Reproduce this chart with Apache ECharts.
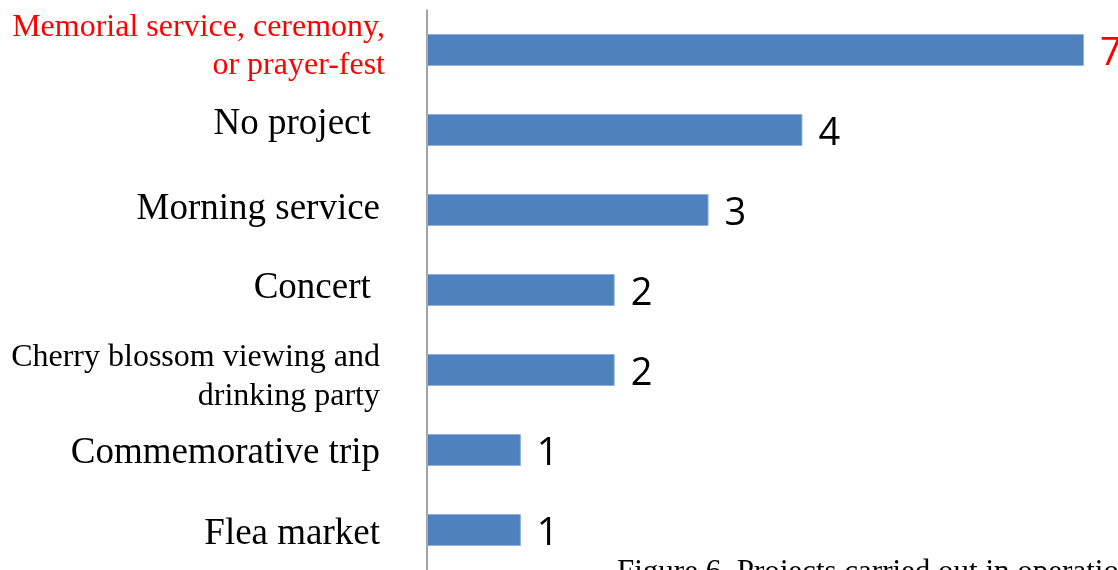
<!DOCTYPE html>
<html>
<head>
<meta charset="utf-8">
<script src="https://cdn.jsdelivr.net/npm/echarts@6/dist/echarts.min.js"></script>
<style>
  html, body { margin: 0; padding: 0; background: #fff; }
  #chart { width: 1118px; height: 570px; }
</style>
</head>
<body>
<div id="chart"></div>
<script>
// Projects and how many groups carried each out
const categories = [
  'Memorial service, ceremony,\nor prayer-fest',
  'No project ',
  'Morning service',
  'Concert ',
  'Cherry blossom viewing and\ndrinking party',
  'Commemorative trip',
  'Flea market'
];
const counts = [7, 4, 3, 2, 2, 1, 1];
const captionText = 'Figure 6. Projects carried out in operations';

const RED = '#ff0000';
const BAR = '#4f81bd';
const SERIF = 'Liberation Serif';

// Text style of each category label (one entry per row, top to bottom)
const labelStyles = [
  { fontFamily: SERIF, fontSize: 32, color: RED,    lineHeight: 38, padding: [0, -5, 6, 0] },
  { fontFamily: SERIF, fontSize: 37, color: '#000', lineHeight: 40, padding: [0, 0, 12, 0] },
  { fontFamily: SERIF, fontSize: 37, color: '#000', lineHeight: 40, padding: [0, 0, 2, 0] },
  { fontFamily: SERIF, fontSize: 37, color: '#000', lineHeight: 40, padding: [0, 0, 4, 0] },
  { fontFamily: SERIF, fontSize: 32, color: '#000', lineHeight: 39, padding: [14, 0, 0, 0] },
  { fontFamily: SERIF, fontSize: 37, color: '#000', lineHeight: 40, padding: [6, 0, 0, 0] },
  { fontFamily: SERIF, fontSize: 37, color: '#000', lineHeight: 40, padding: [8, 0, 0, 0] }
];
const rich = {};
labelStyles.forEach((s, i) => { rich['c' + i] = s; });

const chart = echarts.init(document.getElementById('chart'), null, { renderer: 'canvas' });

chart.setOption({
  animation: false,
  grid: { left: 427, top: 10, width: 657, height: 562, containLabel: false },
  xAxis: {
    type: 'value', min: 0, max: 7,
    show: false, splitLine: { show: false }
  },
  yAxis: {
    type: 'category', inverse: true, data: categories,
    axisLine: { show: true, lineStyle: { color: '#868686', width: 1.5 } },
    axisTick: { show: false },
    axisLabel: {
      margin: 47,
      align: 'right',
      formatter: function (v, i) {
        return v.split('\n').map(l => '{c' + i + '|' + l + '}').join('\n');
      },
      rich: rich
    }
  },
  series: [{
    type: 'bar',
    data: counts.map((v, i) => ({
      value: v,
      label: { color: i === 0 ? RED : '#000' }
    })),
    barWidth: 32,
    itemStyle: { color: BAR, borderColor: '#8fb0da', borderWidth: 1 },
    label: {
      show: true, position: 'right', distance: 16, offset: [0, 4],
      fontFamily: 'Open Sans', fontSize: 38, color: '#000'
    }
  }],
  graphic: [{
    type: 'text', left: 617, top: 557,
    style: { text: captionText, font: '31px "Liberation Serif"', fill: '#000' }
  }]
});
</script>
</body>
</html>
